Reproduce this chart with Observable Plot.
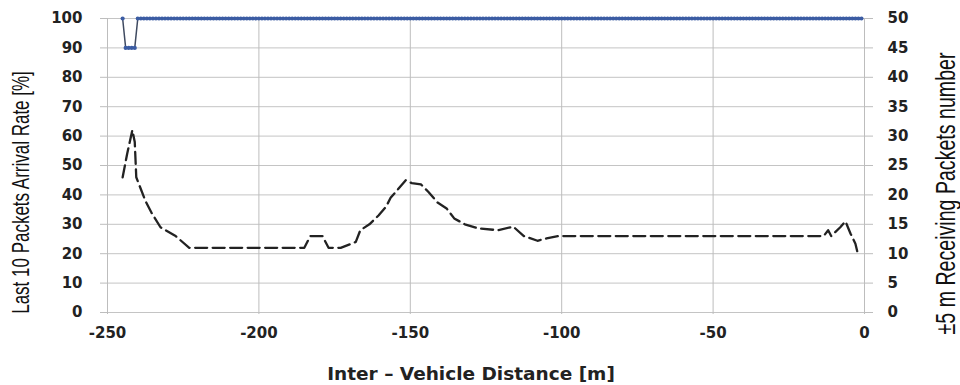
<!DOCTYPE html>
<html><head><meta charset="utf-8">
<script src="https://cdn.jsdelivr.net/npm/d3@7"></script>
<script src="https://cdn.jsdelivr.net/npm/@observablehq/plot@0.6"></script>
<style>
body{margin:0;background:#fff;}
</style></head><body><div id="chart"></div>
<script>
// Last 10 packets arrival rate [%], sampled every metre from -245 m to -1 m
const arrivalStart = -245;
const arrivalRate = [
100,90,90,90,90,100,100,100,100,100,100,100,100,100,100,100,100,100,100,100,
100,100,100,100,100,100,100,100,100,100,100,100,100,100,100,100,100,100,100,100,
100,100,100,100,100,100,100,100,100,100,100,100,100,100,100,100,100,100,100,100,
100,100,100,100,100,100,100,100,100,100,100,100,100,100,100,100,100,100,100,100,
100,100,100,100,100,100,100,100,100,100,100,100,100,100,100,100,100,100,100,100,
100,100,100,100,100,100,100,100,100,100,100,100,100,100,100,100,100,100,100,100,
100,100,100,100,100,100,100,100,100,100,100,100,100,100,100,100,100,100,100,100,
100,100,100,100,100,100,100,100,100,100,100,100,100,100,100,100,100,100,100,100,
100,100,100,100,100,100,100,100,100,100,100,100,100,100,100,100,100,100,100,100,
100,100,100,100,100,100,100,100,100,100,100,100,100,100,100,100,100,100,100,100,
100,100,100,100,100,100,100,100,100,100,100,100,100,100,100,100,100,100,100,100,
100,100,100,100,100,100,100,100,100,100,100,100,100,100,100,100,100,100,100,100,
100,100,100,100,100
];

// ±5 m receiving packets number (right axis)
const packetDistance = [-245,-243.5,-241.8,-241,-240.5,-239,-237.5,-235.5,-232.5,-227.5,-223,
  -187,-185,-183,-179,-177,-173,-168,-166.5,-163.5,-160.5,-158,-156.5,-154,-151.5,-149.5,
  -146.5,-144,-141,-138,-135.5,-132,-127.5,-121,-116,-112.5,-108,-105,-101,
  -13.5,-12,-11,-8,-6.3,-4.6,-3,-2.2];
const packetCount = [23,27,31,29,23,21,19,17,14.5,13,11,
  11,11,13,13,11,11,12,14,15,16.5,18,19.5,21,22.5,22,
  21.8,20.5,18.7,17.7,16,15,14.3,14,14.6,13,12.2,12.6,13,
  13,14,13,14.5,15.5,13.4,11.7,10];

const leftTicks = [0,10,20,30,40,50,60,70,80,90,100];
const xTicks = [-250,-200,-150,-100,-50,0];
const xTitle = "Inter – Vehicle Distance [m]";
const leftTitle = "Last 10 Packets Arrival Rate [%]";
const rightTitle = "±5 m Receiving Packets number";

const arrival = arrivalRate.map((v, i) => ({d: arrivalStart + i, v}));
const packets = packetDistance.map((d, i) => ({d, n: packetCount[i]}));

const chart = Plot.plot({
  width: 960, height: 385,
  marginLeft: 107, marginRight: 96, marginTop: 18, marginBottom: 73,
  x: {domain: [-250, 0]},
  y: {domain: [0, 100]},
  style: {fontFamily: "DejaVu Sans", fontSize: "15px", fontWeight: "bold", color: "#222", background: "#fff"},
  marks: [
    Plot.gridY(leftTicks, {stroke: "#c4c4c4", strokeOpacity: 1}),
    Plot.gridX(xTicks, {stroke: "#bdbdbd", strokeOpacity: 1}),
    Plot.axisY(leftTicks, {anchor: "left", tickSize: 7, tickPadding: 18, label: null, stroke: "#bdbdbd", fill: "#222"}),
    Plot.axisY(leftTicks, {anchor: "right", tickSize: 8, tickPadding: 15, label: null, stroke: "#bdbdbd", fill: "#222", tickFormat: d => String(d / 2)}),
    Plot.axisX(xTicks, {tickSize: 2, tickPadding: 13, label: null, stroke: "#bdbdbd", fill: "#222", tickFormat: d => String(d)}),
    Plot.line(packets, {x: "d", y: d => d.n * 2, stroke: "#222", strokeWidth: 2.3, strokeDasharray: "12,5.5"}),
    Plot.line(arrival, {x: "d", y: "v", stroke: "#3f4a60", strokeWidth: 1.5}),
    Plot.dot(arrival, {x: "d", y: "v", r: 2.1, fill: "#3b5ca3", stroke: null}),
    Plot.text([leftTitle], {frameAnchor: "left", textAnchor: "middle", dx: -86, dy: 27, rotate: -90, fontFamily: "Liberation Sans", fontWeight: "normal", fontSize: 17, fill: "#111"}),
    Plot.text([rightTitle], {frameAnchor: "right", textAnchor: "middle", dx: 81, dy: 28, rotate: -90, fontFamily: "Liberation Sans", fontWeight: "normal", fontSize: 19.6, fill: "#111"}),
    Plot.text([xTitle], {frameAnchor: "bottom", dx: -15, dy: 67, fontFamily: "DejaVu Sans", fontWeight: "bold", fontSize: 18.5, fill: "#222"})
  ]
});
d3.select(chart).selectAll("text")
  .filter(function() { return this.textContent === leftTitle || this.textContent === rightTitle; })
  .each(function() {
    const t = this.getAttribute("transform") || "";
    this.setAttribute("transform", t + " scale(1,1.45)");
  });
document.getElementById("chart").appendChild(chart);
</script></body></html>
